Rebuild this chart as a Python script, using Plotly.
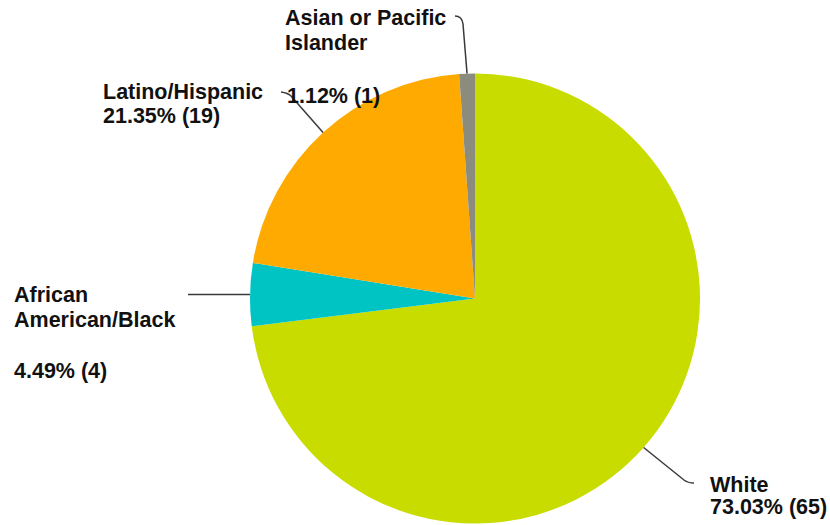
import math
import plotly.graph_objects as go

# ---- data ----
labels = ["White", "African American/Black", "Latino/Hispanic", "Asian or Pacific Islander"]
values = [65, 4, 19, 1]
colors = ["#C8DC00", "#00C4C4", "#FFAA00", "#8C8C7E"]

W, H = 830, 525
CX, CY, R = 475.0, 298.5, 225.0  # pie centre / radius in pixels

total = sum(values)
pcts = [v / total * 100 for v in values]


def px(x):
    return x / W


def py(y):
    return 1 - y / H


fig = go.Figure(go.Pie(
    labels=labels, values=values, sort=False, direction="clockwise", rotation=0,
    marker=dict(colors=colors, line=dict(width=0)),
    textinfo="none", hoverinfo="label+value+percent", showlegend=False,
    domain=dict(x=[px(CX - R), px(CX + R)], y=[py(CY + R), py(CY - R)]),
))

# mid angles of slices (degrees clockwise from 12 o'clock)
mids = []
acc = 0.0
for v in values:
    mids.append((acc + v / 2) / total * 360)
    acc += v


def edge(i, frac=1.0):
    a = math.radians(mids[i])
    return CX + R * frac * math.sin(a), CY - R * frac * math.cos(a)


line_style = dict(color="#3a3a3a", width=1.5)
shapes = []

# White leader
x0, y0 = edge(0)
shapes.append(dict(type="path", xref="paper", yref="paper", line=line_style,
                   path=f"M {px(x0)},{py(y0)} L {px(684)},{py(480)} Q {px(688)},{py(483)} {px(694)},{py(483)}"))
# African leader
x0, y0 = edge(1)
shapes.append(dict(type="path", xref="paper", yref="paper", line=line_style,
                   path=f"M {px(x0)},{py(y0)} L {px(188)},{py(y0)}"))
# Latino leader
x0, y0 = edge(2)
shapes.append(dict(type="path", xref="paper", yref="paper", line=line_style,
                   path=f"M {px(x0)},{py(y0)} L {px(291)},{py(96)} Q {px(288)},{py(93)} {px(281)},{py(92)}"))
# Asian leader
x0, y0 = edge(3)
shapes.append(dict(type="path", xref="paper", yref="paper", line=line_style,
                   path=f"M {px(x0)},{py(y0)} L {px(463)},{py(24)} Q {px(462)},{py(16)} {px(455)},{py(16)}"))

font = dict(family="Liberation Sans, Arial, sans-serif", size=21.5, color="#111111", weight="bold")


def pct_text(i):
    return f"{pcts[i]:.2f}% ({values[i]})"


texts = [
    ("Asian or Pacific", 283, 18),
    ("Islander", 283, 43),
    (pct_text(3), 285, 96),
    ("Latino/Hispanic", 101, 92),
    (pct_text(2), 101, 116),
    ("African", 12, 295),
    ("American/Black", 12, 320),
    (pct_text(1), 12, 371),
    ("White", 708, 485),
    (pct_text(0), 708, 507),
]

annotations = [dict(text=t, x=px(x), y=py(y), xref="paper", yref="paper",
                    xanchor="left", yanchor="middle", showarrow=False, font=font)
               for t, x, y in texts]

fig.update_layout(width=W, height=H, margin=dict(l=0, r=0, t=0, b=0),
                  paper_bgcolor="white", plot_bgcolor="white",
                  shapes=shapes, annotations=annotations)

fig.write_html("out.html")
